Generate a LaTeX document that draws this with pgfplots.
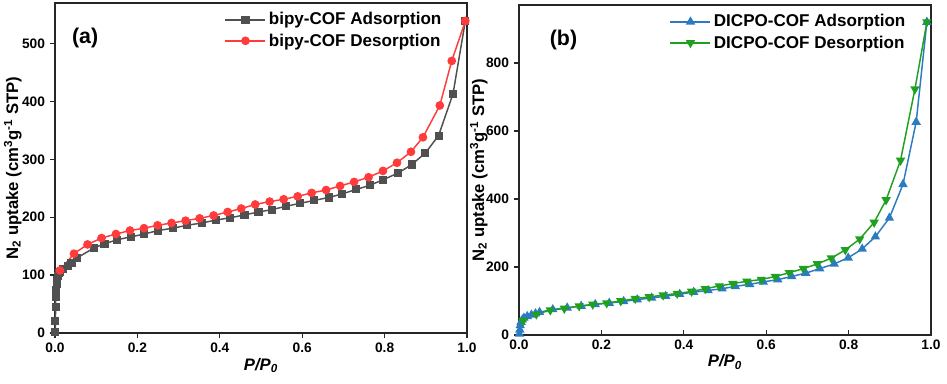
\documentclass[border=0pt]{standalone}
\usepackage{fontspec}
\setmainfont{Liberation Sans}
\usepackage{pgfplots}
\pgfplotsset{compat=1.18}
\definecolor{cgray}{HTML}{505050}
\definecolor{cred}{HTML}{FF3B3B}
\definecolor{cblue}{HTML}{2A7BC0}
\definecolor{cgreen}{HTML}{1FA01F}
\pgfplotsset{
  common/.style={
    scale only axis,
    width=309pt, height=247.5pt,
    xmin=0, xmax=1,
    axis line style={line width=1.1pt, color=black!85},
    tick style={line width=1pt, color=black!85},
    major tick length=4pt,
    xtick={0,0.2,...,1.0},
    xticklabel style={/pgf/number format/fixed,/pgf/number format/fixed zerofill,/pgf/number format/precision=1},
    /pgf/number format/assume math mode=true,
    ticklabel style={font=\fontsize{10.3}{11}\selectfont\bfseries},
    label style={font=\fontsize{12.5}{13}\selectfont\bfseries},
    xlabel={\itshape P/P\textsubscript{0}},
    ylabel={N\textsubscript{2} uptake (cm\textsuperscript{3}g\textsuperscript{-1} STP)},
    xtick pos=bottom, ytick pos=left,
    legend cell align=left,
    legend style={draw=none, fill=none, font=\fontsize{12.8}{13}\selectfont\bfseries,
      at={(1,1)}, anchor=north east, xshift=-14pt, yshift=-3pt, row sep=1pt},
    legend image code/.code={\draw[mark repeat=2,mark phase=2] plot coordinates {(0pt,0pt) (15pt,0pt) (30pt,0pt)};},
    every axis plot/.append style={line width=1.1pt},
  }
}
\begin{document}
\begin{tikzpicture}
\useasboundingbox (0,0) rectangle (710.25pt,287.25pt);
\begin{axis}[common, at={(41.25pt,37.5pt)}, anchor=south west,
  ymin=0, ymax=570, ytick={0,100,...,500}, tick align=outside,
  xlabel style={yshift=3pt}, ylabel style={yshift=-6.5pt}]
\addplot[cgray, mark=square*, mark size=2.5pt] coordinates {
(0.0005,2) (0.001,20) (0.0015,45) (0.002,62) (0.003,75) (0.004,85) (0.005,92) (0.007,98) (0.009,103) (0.012,106)
(0.02,110) (0.032,115) (0.04,121) (0.054,130) (0.095,147) (0.12,154) (0.15,161) (0.184,166) (0.217,171)
(0.25,177) (0.286,181) (0.32,186) (0.356,190) (0.39,195) (0.425,199) (0.46,204) (0.494,209) (0.526,213)
(0.561,219) (0.595,224) (0.629,229) (0.664,234) (0.696,240) (0.731,248) (0.764,255) (0.797,265) (0.832,276)
(0.866,291) (0.899,311) (0.931,341) (0.966,413) (0.996,539)};
\addlegendentry{bipy-COF Adsorption}
\addplot[cred, mark=*, mark size=2.7pt] coordinates {
(0.996,539) (0.963,470) (0.934,393) (0.893,338) (0.864,313) (0.83,294) (0.796,280) (0.761,269) (0.726,261)
(0.692,254) (0.658,247) (0.623,242) (0.589,236) (0.555,231) (0.521,227) (0.486,222) (0.452,215) (0.419,209)
(0.385,203) (0.351,198) (0.317,194) (0.283,190) (0.249,186) (0.216,181) (0.182,177) (0.148,171) (0.113,164)
(0.079,153) (0.046,137) (0.012,108)};
\addlegendentry{bipy-COF Desorption}
\node[font=\fontsize{16}{17}\selectfont\bfseries] at (axis cs:0.073,510) {(a)};
\end{axis}
\begin{axis}[common, at={(389.25pt,36pt)}, anchor=south west,
  ymin=0, ymax=970, ytick={0,200,...,800},
  xtick align=inside, ytick align=outside,
  xlabel style={yshift=3pt}, ylabel style={yshift=-8pt}]
\addplot[cblue, mark=triangle*, mark size=3pt] coordinates {
(0.001,3) (0.002,15) (0.003,28) (0.005,38) (0.008,45) (0.012,50) (0.02,55) (0.03,59) (0.04,63) (0.05,67)
(0.082,75) (0.117,80) (0.151,85) (0.185,90) (0.219,94) (0.254,99) (0.287,104) (0.322,109) (0.356,114)
(0.39,120) (0.424,126) (0.459,131) (0.493,136) (0.525,143) (0.56,149) (0.593,156) (0.628,163) (0.662,172)
(0.696,182) (0.73,195) (0.765,209) (0.799,227) (0.833,253) (0.865,289) (0.899,344) (0.932,443) (0.964,626)
(0.99,920)};
\addlegendentry{DICPO-COF Adsorption}
\addplot[cgreen, mark=triangle*, mark options={rotate=180}, mark size=3pt] coordinates {
(0.99,920) (0.961,723) (0.926,513) (0.891,397) (0.862,331) (0.827,282) (0.792,250) (0.758,226) (0.724,209)
(0.69,195) (0.656,183) (0.622,172) (0.588,163) (0.553,158) (0.519,151) (0.486,144) (0.452,136) (0.419,128)
(0.384,122) (0.35,117) (0.316,112) (0.282,107) (0.247,100) (0.213,94) (0.179,90) (0.146,85) (0.11,78)
(0.076,73) (0.042,61) (0.01,42)};
\addlegendentry{DICPO-COF Desorption}
\node[font=\fontsize{16}{17}\selectfont\bfseries] at (axis cs:0.108,867) {(b)};
\end{axis}
\end{tikzpicture}
\end{document}
